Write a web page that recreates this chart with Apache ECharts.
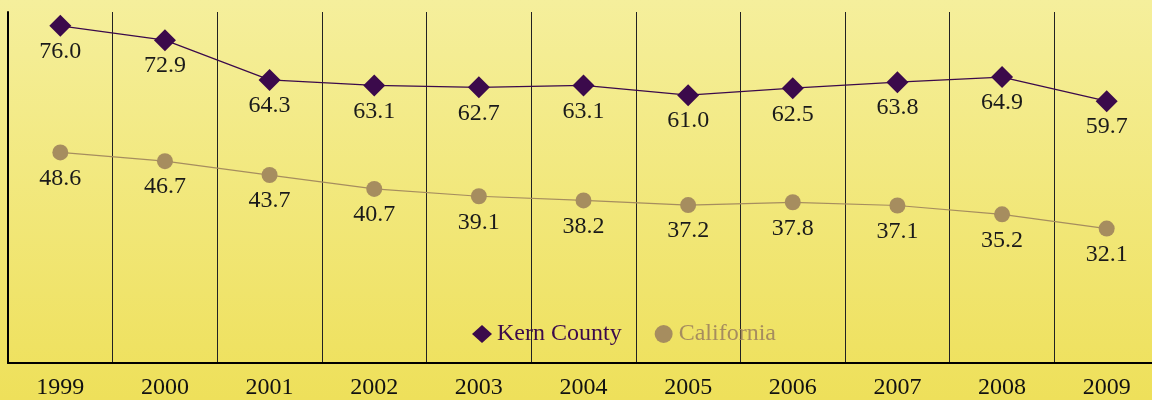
<!DOCTYPE html>
<html>
<head>
<meta charset="utf-8">
<script src="https://cdn.jsdelivr.net/npm/echarts@6/dist/echarts.min.js"></script>
<style>
  html, body { margin: 0; padding: 0; }
  #chart { width: 1152px; height: 400px; }
</style>
</head>
<body>
<div id="chart"></div>
<script>
// values
const years = ['1999', '2000', '2001', '2002', '2003', '2004', '2005', '2006', '2007', '2008', '2009'];
const kernCounty = [76.0, 72.9, 64.3, 63.1, 62.7, 63.1, 61.0, 62.5, 63.8, 64.9, 59.7];
const california = [48.6, 46.7, 43.7, 40.7, 39.1, 38.2, 37.2, 37.8, 37.1, 35.2, 32.1];

const kernColor = '#3b0a4b';
const caColor = '#a68d5f';
const font = '"Liberation Serif", "DejaVu Serif", serif';

const myChart = echarts.init(document.getElementById('chart'));

myChart.setOption({
    backgroundColor: {
        type: 'linear', x: 0, y: 0, x2: 0, y2: 1,
        colorStops: [
            { offset: 0, color: '#f5ef9c' },
            { offset: 1, color: '#eee05a' }
        ]
    },
    textStyle: { fontFamily: font },
    animation: false,
    grid: { left: 8, top: 12, width: 1151, bottom: 37, outerBoundsMode: 'none' },
    legend: {
        left: 467,
        top: 317,
        itemWidth: 20,
        itemHeight: 18,
        itemGap: 33,
        data: [
            { name: 'Kern County', icon: 'diamond', textStyle: { color: kernColor } },
            { name: 'California', icon: 'circle', textStyle: { color: caColor } }
        ],
        textStyle: { fontFamily: font, fontSize: 24 }
    },
    xAxis: {
        type: 'category',
        data: years,
        boundaryGap: true,
        axisLine: { lineStyle: { color: '#000', width: 2 } },
        axisTick: { show: false },
        axisLabel: { color: '#111', fontFamily: font, fontSize: 24, margin: 13 },
        splitLine: { show: true, lineStyle: { color: '#222', width: 1 } }
    },
    yAxis: {
        type: 'value',
        min: 3,
        max: 79,
        axisLine: { show: true, lineStyle: { color: '#000', width: 2 } },
        axisTick: { show: false },
        axisLabel: { show: false },
        splitLine: { show: false }
    },
    series: [
        {
            name: 'Kern County',
            type: 'line',
            data: kernCounty,
            symbol: 'diamond',
            symbolSize: 22,
            itemStyle: { color: kernColor },
            lineStyle: { color: kernColor, width: 1.2 },
            label: {
                show: true,
                position: 'bottom',
                distance: 3,
                color: '#1a1a1a',
                fontFamily: font,
                fontSize: 24,
                formatter: p => p.value.toFixed(1)
            }
        },
        {
            name: 'California',
            type: 'line',
            data: california,
            symbol: 'circle',
            symbolSize: 16,
            itemStyle: { color: caColor },
            lineStyle: { color: caColor, width: 1.2 },
            label: {
                show: true,
                position: 'bottom',
                distance: 6,
                color: '#1a1a1a',
                fontFamily: font,
                fontSize: 24,
                formatter: p => p.value.toFixed(1)
            }
        }
    ]
});

window.addEventListener('resize', () => {
    myChart.resize();
});
</script>
</body>
</html>
